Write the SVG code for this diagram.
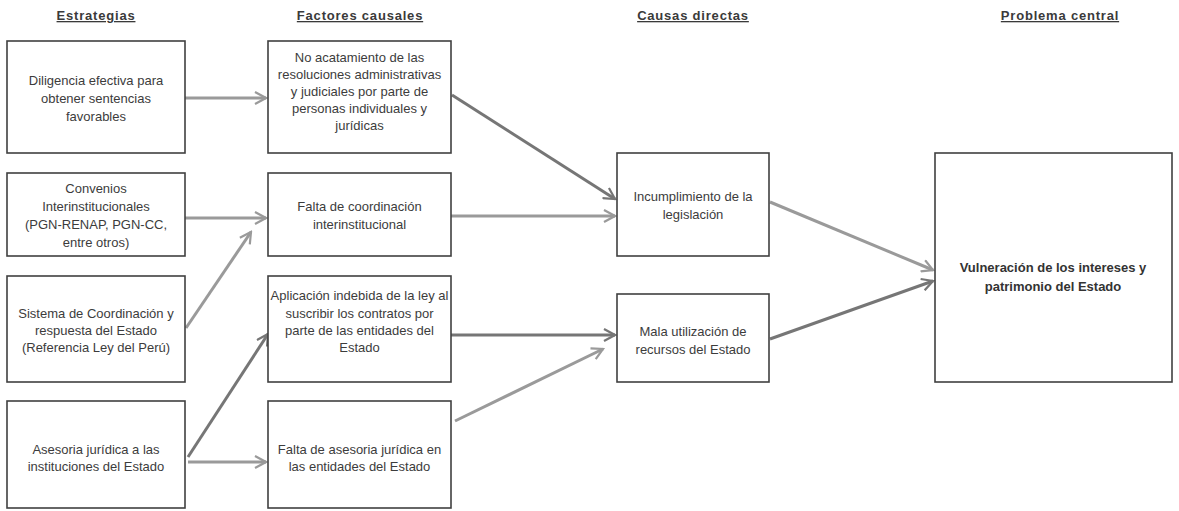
<svg xmlns="http://www.w3.org/2000/svg" width="1179" height="511" viewBox="0 0 1179 511">
<style>
.bg{fill:#ffffff}
.box{fill:#ffffff;stroke:#404040;stroke-width:1.6}
.t{font-family:"Liberation Sans",Arial,sans-serif;font-size:13px;fill:#3c3c3c;text-anchor:middle}
.tb{font-family:"Liberation Sans",Arial,sans-serif;font-size:13px;font-weight:bold;fill:#333333;text-anchor:middle}
.h{font-family:"Liberation Sans",Arial,sans-serif;font-size:13px;font-weight:bold;fill:#3a3a3a;text-anchor:middle;text-decoration:underline;letter-spacing:0.8px}
.al{fill:none;stroke:#9a9a9a;stroke-width:3;marker-end:url(#ml)}
.ad{fill:none;stroke:#767676;stroke-width:3;marker-end:url(#md)}
</style>
<defs>
<marker id="ml" viewBox="0 0 14 14" markerWidth="14" markerHeight="14" markerUnits="userSpaceOnUse" refX="12" refY="7" orient="auto">
<path d="M1,1 L12,7 L1,13" fill="none" stroke="#9a9a9a" stroke-width="2.2"/>
</marker>
<marker id="md" viewBox="0 0 14 14" markerWidth="14" markerHeight="14" markerUnits="userSpaceOnUse" refX="12" refY="7" orient="auto">
<path d="M1,1 L12,7 L1,13" fill="none" stroke="#767676" stroke-width="2.2"/>
</marker>
</defs>
<rect class="bg" x="0" y="0" width="1179" height="511"/>

<g id="headers">
<text class="h" x="96" y="20">Estrategias</text>
<text class="h" x="360" y="20">Factores causales</text>
<text class="h" x="693" y="20">Causas directas</text>
<text class="h" x="1060" y="20">Problema central</text>
</g>

<g id="connectors">
<line class="al" x1="185" y1="98" x2="266" y2="98"/>
<line class="al" x1="185" y1="218" x2="266" y2="218"/>
<line class="al" x1="186" y1="328" x2="251" y2="232"/>
<line class="ad" x1="188" y1="457" x2="268" y2="334"/>
<line class="al" x1="188" y1="462" x2="266" y2="462"/>
<line class="ad" x1="452" y1="95" x2="615" y2="199"/>
<line class="al" x1="451" y1="216" x2="615" y2="216"/>
<line class="ad" x1="451" y1="335" x2="615" y2="335"/>
<line class="al" x1="455" y1="421" x2="603" y2="349"/>
<line class="al" x1="770" y1="202" x2="933" y2="270"/>
<line class="ad" x1="770" y1="339" x2="933" y2="281"/>
</g>

<g id="n-diligencia">
<rect class="box" x="7" y="41" width="178" height="112"/>
<text class="t" x="96" y="85">Diligencia efectiva para</text>
<text class="t" x="96" y="103">obtener sentencias</text>
<text class="t" x="96" y="121">favorables</text>
</g>
<g id="n-convenios">
<rect class="box" x="7" y="173" width="178" height="83"/>
<text class="t" x="96" y="193">Convenios</text>
<text class="t" x="96" y="211">Interinstitucionales</text>
<text class="t" x="96" y="229">(PGN-RENAP, PGN-CC,</text>
<text class="t" x="96" y="247">entre otros)</text>
</g>
<g id="n-sistema">
<rect class="box" x="7" y="276" width="178" height="106"/>
<text class="t" x="96" y="318">Sistema de Coordinación y</text>
<text class="t" x="96" y="335">respuesta del Estado</text>
<text class="t" x="96" y="352">(Referencia Ley del Perú)</text>
</g>
<g id="n-asesoria">
<rect class="box" x="7" y="401" width="178" height="107"/>
<text class="t" x="96" y="454">Asesoria jurídica a las</text>
<text class="t" x="96" y="471">instituciones del Estado</text>
</g>

<g id="n-acatamiento">
<rect class="box" x="268" y="41" width="183" height="112"/>
<text class="t" x="359.5" y="62">No acatamiento de las</text>
<text class="t" x="359.5" y="79">resoluciones administrativas</text>
<text class="t" x="359.5" y="96">y judiciales por parte de</text>
<text class="t" x="359.5" y="113">personas individuales y</text>
<text class="t" x="359.5" y="130">jurídicas</text>
</g>
<g id="n-coordinacion">
<rect class="box" x="268" y="173" width="183" height="83"/>
<text class="t" x="359.5" y="211">Falta de coordinación</text>
<text class="t" x="359.5" y="229">interinstitucional</text>
</g>
<g id="n-aplicacion">
<rect class="box" x="268" y="276" width="183" height="106"/>
<text class="t" x="359.5" y="300">Aplicación indebida de la ley al</text>
<text class="t" x="359.5" y="318">suscribir los contratos por</text>
<text class="t" x="359.5" y="335">parte de las entidades del</text>
<text class="t" x="359.5" y="352">Estado</text>
</g>
<g id="n-falta-asesoria">
<rect class="box" x="268" y="401" width="183" height="107"/>
<text class="t" x="359.5" y="454">Falta de asesoria jurídica en</text>
<text class="t" x="359.5" y="471">las entidades del Estado</text>
</g>

<g id="n-incumplimiento">
<rect class="box" x="617" y="153" width="152" height="103"/>
<text class="t" x="693" y="201">Incumplimiento de la</text>
<text class="t" x="693" y="219">legislación</text>
</g>
<g id="n-mala">
<rect class="box" x="617" y="294" width="152" height="88"/>
<text class="t" x="693" y="336">Mala utilización de</text>
<text class="t" x="693" y="354">recursos del Estado</text>
</g>

<g id="n-problema">
<rect class="box" x="935" y="153" width="237" height="229"/>
<text class="tb" x="1053" y="272">Vulneración de los intereses y</text>
<text class="tb" x="1053" y="291">patrimonio del Estado</text>
</g>
</svg>
